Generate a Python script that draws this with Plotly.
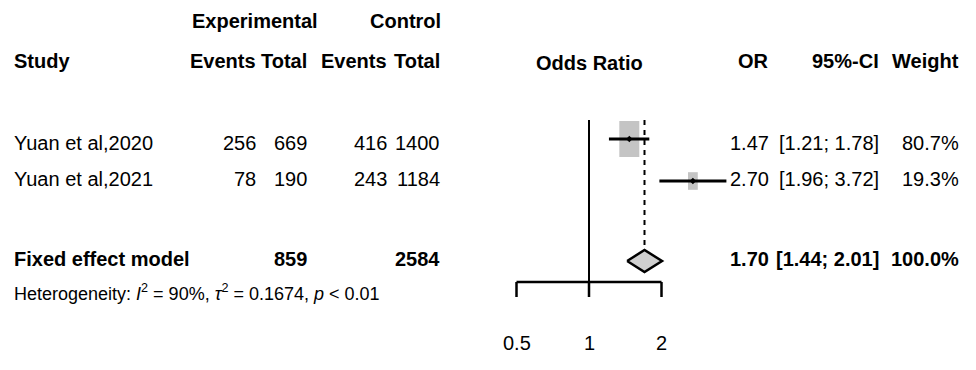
import math
import plotly.graph_objects as go

# ---------------- data ----------------
studies = ["Yuan et al,2020", "Yuan et al,2021"]
exp_events = [256, 78]
exp_total = [669, 190]
ctrl_events = [416, 243]
ctrl_total = [1400, 1184]
odds_ratio = [1.47, 2.70]
ci_low = [1.21, 1.96]
ci_high = [1.78, 3.72]
weights = [80.7, 19.3]

fixed_label = "Fixed effect model"
fixed_exp_total = 859
fixed_ctrl_total = 2584
fixed_or = 1.70
fixed_low = 1.44
fixed_high = 2.01
fixed_weight = 100.0
heterogeneity = "Heterogeneity: <i>I</i><sup>2</sup> = 90%, <i>τ</i><sup>2</sup> = 0.1674, <i>p</i> < 0.01"

tick_vals = [0.5, 1, 2]
tick_text = ["0.5", "1", "2"]

# ---------------- layout constants (page pixel positions) ----------------
OFF = 8                 # default body margin of the html page
W, H = 976 - 2 * OFF, 370 - 2 * OFF
X_ONE = 589.0           # page pixel of OR = 1
PX_PER_LOG2 = 72.5      # pixels per doubling
ROW_Y = [139, 181]      # y of study rows (marks)
ROW_TEXT_Y = [143, 179] # y of study rows (text)
FIX_Y = 261
AXIS_Y = 282
TOP_Y = 120
FONT = "Liberation Sans, Arial, sans-serif"
FS = 20


def lg(v):
    return math.log2(v)


def px(xpix):
    return (xpix - OFF) / W


fig = go.Figure()

# reference line at OR = 1
fig.add_trace(go.Scatter(x=[lg(1), lg(1)], y=[TOP_Y, AXIS_Y], mode="lines",
                         line=dict(color="black", width=2), hoverinfo="skip"))
# dashed line at pooled estimate
fig.add_trace(go.Scatter(x=[lg(fixed_or), lg(fixed_or)], y=[TOP_Y, FIX_Y - 11], mode="lines",
                         line=dict(color="black", width=2, dash="5px,5px"), hoverinfo="skip"))

# study squares (area proportional to weight) and CIs
for i in range(len(studies)):
    half_w = 10.0 * math.sqrt(weights[i] / weights[0]) / PX_PER_LOG2
    half_h = 18.0 * math.sqrt(weights[i] / weights[0])
    cx = lg(odds_ratio[i])
    cy = ROW_Y[i]
    fig.add_trace(go.Scatter(
        x=[cx - half_w, cx + half_w, cx + half_w, cx - half_w, cx - half_w],
        y=[cy - half_h, cy - half_h, cy + half_h, cy + half_h, cy - half_h],
        mode="lines", fill="toself", fillcolor="#c4c4c4",
        line=dict(color="#c4c4c4", width=0), hoverinfo="skip"))
    fig.add_trace(go.Scatter(x=[lg(ci_low[i]), lg(ci_high[i])], y=[cy, cy], mode="lines",
                             line=dict(color="black", width=3), hoverinfo="skip"))
    fig.add_trace(go.Scatter(x=[cx], y=[cy], mode="markers",
                             marker=dict(symbol="diamond", size=5, color="black"), hoverinfo="skip"))

# pooled diamond
fig.add_trace(go.Scatter(
    x=[lg(fixed_low), lg(fixed_or), lg(fixed_high), lg(fixed_or), lg(fixed_low)],
    y=[FIX_Y, FIX_Y - 11, FIX_Y, FIX_Y + 11, FIX_Y],
    mode="lines", fill="toself", fillcolor="#d0d0d0",
    line=dict(color="black", width=2.5), hoverinfo="skip"))

# x axis line and ticks
fig.add_trace(go.Scatter(x=[lg(tick_vals[0]), lg(tick_vals[-1])], y=[AXIS_Y, AXIS_Y], mode="lines",
                         line=dict(color="black", width=2.5), hoverinfo="skip"))
for t in tick_vals:
    fig.add_trace(go.Scatter(x=[lg(t), lg(t)], y=[AXIS_Y, AXIS_Y + 15], mode="lines",
                             line=dict(color="black", width=2.5), hoverinfo="skip"))

annotations = []


def txt(text, xpix, ypix, anchor="left", size=FS, bold=False):
    if bold:
        text = "<b>" + text + "</b>"
    annotations.append(dict(text=text, x=px(xpix), y=ypix, xref="paper", yref="y",
                            xanchor=anchor, yanchor="middle", showarrow=False,
                            font=dict(family=FONT, size=size, color="black")))


# tick labels
for t, lab in zip(tick_vals, tick_text):
    annotations.append(dict(text=lab, x=lg(t), y=343, xref="x", yref="y", xanchor="center",
                            yanchor="middle", showarrow=False,
                            font=dict(family=FONT, size=FS, color="black")))

# column right edges
C_EE, C_ET, C_CE, C_CT = 258, 309, 389, 442
C_OR, C_CI, C_W = 771, 881, 961

# headers
txt("Experimental", 190, 21, bold=True)
txt("Control", C_CT + 1, 21, "right", bold=True)
txt("Study", 12, 61, bold=True)
txt("Events", C_EE, 61, "right", bold=True)
txt("Total", C_ET, 61, "right", bold=True)
txt("Events", C_CE, 61, "right", bold=True)
txt("Total", C_CT, 61, "right", bold=True)
txt("Odds Ratio", X_ONE, 63, "center", bold=True)
txt("OR", C_OR, 61, "right", bold=True)
txt("95%-CI", C_CI, 61, "right", bold=True)
txt("Weight", C_W, 61, "right", bold=True)

COLS = [(C_EE, exp_events), (C_ET, exp_total), (C_CE, ctrl_events), (C_CT, ctrl_total)]
for i, name in enumerate(studies):
    y = ROW_TEXT_Y[i]
    txt(name, 12, y)
    for xr, arr in COLS:
        txt(str(arr[i]), xr, y, "right")
    txt(f"{odds_ratio[i]:.2f}", C_OR, y, "right")
    txt(f"[{ci_low[i]:.2f}; {ci_high[i]:.2f}]", C_CI, y, "right")
    txt(f"{weights[i]:.1f}%", C_W, y, "right")

txt(fixed_label, 12, FIX_Y - 2, bold=True)
txt(str(fixed_exp_total), C_ET, FIX_Y - 2, "right", bold=True)
txt(str(fixed_ctrl_total), C_CT, FIX_Y - 2, "right", bold=True)
txt(f"{fixed_or:.2f}", C_OR, FIX_Y - 2, "right", bold=True)
txt(f"[{fixed_low:.2f}; {fixed_high:.2f}]", C_CI, FIX_Y - 2, "right", bold=True)
txt(f"{fixed_weight:.1f}%", C_W, FIX_Y - 2, "right", bold=True)
txt(heterogeneity, 12, 292, size=18)

fig.update_layout(
    width=W, height=H,
    margin=dict(l=0, r=0, t=0, b=0),
    paper_bgcolor="white", plot_bgcolor="white",
    showlegend=False,
    xaxis=dict(range=[(OFF - X_ONE) / PX_PER_LOG2, (OFF + W - X_ONE) / PX_PER_LOG2],
               visible=False, fixedrange=True),
    yaxis=dict(range=[OFF + H, OFF], visible=False, fixedrange=True),
    annotations=annotations,
)

fig.write_html("out.html")
